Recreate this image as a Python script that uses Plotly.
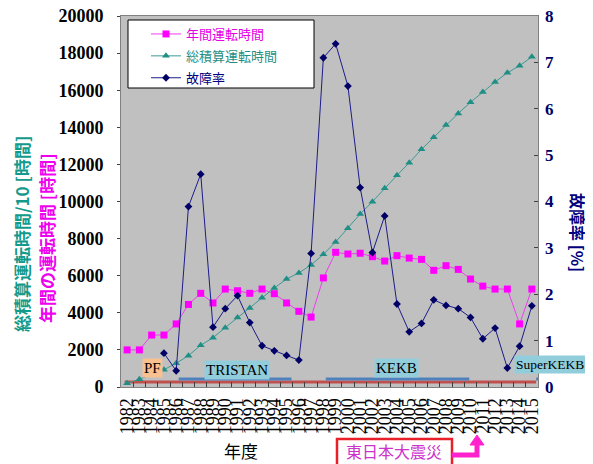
import plotly.graph_objects as go

years = [str(y) for y in range(1982, 2016)]

annual_hours = [2000, 2000, 2800, 2800, 3400, 4450, 5050, 4530, 5280, 5190,
                5050, 5280, 5030, 4530, 4080, 3770, 5880, 7260, 7170, 7210,
                7025, 6790, 7080, 6950, 6880, 6290, 6540, 6340, 5820, 5440,
                5280, 5280, 3400, 5280]

cumulative_hours_div10 = [200, 415, 680, 930, 1280, 1690, 2250, 2660, 3200, 3740,
                          4260, 4815, 5340, 5820, 6150, 6580, 7150, 7820, 8555, 9325,
                          9990, 10710, 11410, 12090, 12810, 13460, 14120, 14750, 15350, 15900,
                          16440, 16940, 17320, 17800]

failure_rate = [None, None, None, 0.73, 0.35, 3.89, 4.59, 1.29, 1.69, 1.97,
                1.39, 0.89, 0.78, 0.68, 0.58, 2.88, 7.10, 7.40, 6.49, 4.30,
                2.90, 3.69, 1.79, 1.19, 1.37, 1.88, 1.76, 1.69, 1.50, 1.04,
                1.27, 0.41, 0.88, 1.75]

left_ticks = list(range(0, 20001, 2000))
left_ticktext = [str(v) for v in left_ticks]
right_ticks = list(range(0, 9))

# operation periods (category index start/end) for accelerators
facility_names = ["TRISTAN", "KEKB", "SuperKEKB"]
facility_start = [4.2, 16.2, 33.35]
facility_end = [13.4, 27.9, 33.5]
pf_start, pf_end = -0.2, 33.35

# page has an 8px body margin; figure is sized to fill the rest of the window
OFF = 8
W, H = 593 - OFF, 464 - OFF
PX0, PY0, PX1, PY1 = 121, 16, 538, 387          # plot area in window pixels
L, T = PX0 - OFF, PY0 - OFF
PW, PH = PX1 - PX0, PY1 - PY0
R, B = W - L - PW, H - T - PH


def px(x):
    return (x - PX0) / PW


def py(y):
    return (PY1 - y) / PH


SERIF = "Liberation Serif"
CJK = "Noto Sans CJK JP"
MAG = "#ff00ff"
TEAL = "#1f8f86"
NAVY = "#000080"

fig = go.Figure()
fig.add_trace(go.Scatter(
    x=years, y=annual_hours, mode="lines+markers", legendgroup="a",
    name='<span style="color:#e600e6">年間運転時間</span>',
    line=dict(color="#f03cf0", width=1),
    marker=dict(symbol="square", size=7, color=MAG)))
fig.add_trace(go.Scatter(
    x=years, y=cumulative_hours_div10, mode="lines+markers", legendgroup="b",
    name='<span style="color:#1f8f86">総積算運転時間</span>',
    line=dict(color="#3a9a94", width=1),
    marker=dict(symbol="triangle-up", size=7, color=TEAL)))
fig.add_trace(go.Scatter(
    x=years, y=failure_rate, mode="lines+markers", yaxis="y2", legendgroup="c",
    name='<span style="color:#000080">故障率</span>',
    line=dict(color="#1c1c8a", width=1),
    marker=dict(symbol="diamond", size=6, color="#000066")))

shapes = []
# PF line (whole period)
shapes.append(dict(type="line", xref="x", yref="y", x0=pf_start, x1=pf_end, y0=270, y1=270,
                   line=dict(color="#c0504d", width=3), layer="below"))
for s, e in zip(facility_start, facility_end):
    shapes.append(dict(type="line", xref="x", yref="y", x0=s, x1=e, y0=430, y1=430,
                       line=dict(color="#4f81bd", width=3), layer="below"))
# legend box
shapes.append(dict(type="rect", xref="paper", yref="paper", x0=px(128), x1=px(314),
                   y0=py(88), y1=py(20), fillcolor="white", line=dict(color="black", width=1),
                   layer="above"))
# earthquake box and arrow
shapes.append(dict(type="rect", xref="paper", yref="paper", x0=px(337), x1=px(452),
                   y0=py(470), y1=py(439), line=dict(color="#e8202a", width=2.5)))
shapes.append(dict(type="path", xref="paper", yref="paper",
                   path=f"M {px(452)},{py(455)} L {px(477)},{py(455)} L {px(477)},{py(444)}",
                   line=dict(color="#ff22cc", width=5)))
shapes.append(dict(type="path", xref="paper", yref="paper",
                   path=f"M {px(470)},{py(445)} L {px(484)},{py(445)} L {px(477)},{py(435)} Z",
                   fillcolor="#ff22cc", line=dict(color="#ff22cc", width=1)))


def note(x, y, text, font, **kw):
    d = dict(x=x, y=y, xref="paper", yref="paper", text=text, showarrow=False,
             xanchor="center", yanchor="middle", font=font)
    d.update(kw)
    return d


annotations = [
    note(px(21), py(234), "総積算運転時間/10 [時間]",
         dict(family=CJK, size=17, color="#149a8a", weight="bold"), textangle=-90),
    note(px(46), py(238), "年間の運転時間 [時間]",
         dict(family=CJK, size=17, color="#ee00ee", weight="bold"), textangle=-90),
    note(px(578), py(232), "故障率 [%]",
         dict(family=CJK, size=16, color=NAVY, weight="bold"), textangle=90),
    note(px(241), py(450), "年度", dict(family=CJK, size=17, color="black")),
    note(px(394), py(451), "東日本大震災", dict(family=CJK, size=16, color="#cc33cc")),
    dict(x=2.1, y=1024, xref="x", yref="y", text="PF", showarrow=False,
         xanchor="center", yanchor="middle",
         bgcolor="#fac090", borderpad=1, font=dict(family=SERIF, size=15, color="black")),
    dict(x=8.96, y=916, xref="x", yref="y", text="TRISTAN", showarrow=False,
         xanchor="center", yanchor="middle",
         bgcolor="#92cddc", borderpad=1, font=dict(family=SERIF, size=15, color="black")),
    dict(x=22.0, y=1000, xref="x", yref="y", text="KEKB", showarrow=False,
         xanchor="center", yanchor="middle",
         bgcolor="#92cddc", borderpad=1, font=dict(family=SERIF, size=15, color="black")),
    note(px(586), py(364.5), "SuperKEKB", dict(family=SERIF, size=13.5, color="black"),
         xanchor="right", bgcolor="#92cddc", borderpad=1),
]

fig.update_layout(
    width=W, height=H,
    margin=dict(l=L, r=R, t=T, b=B, autoexpand=False),
    paper_bgcolor="white", plot_bgcolor="#c0c0c0",
    showlegend=True,
    legend=dict(x=px(146), y=py(19), xanchor="left", yanchor="top",
                bgcolor="rgba(0,0,0,0)", borderwidth=0,
                font=dict(family=CJK, size=13), tracegroupgap=2),
    xaxis=dict(type="category", range=[-0.5, 33.5], tickmode="array", tickvals=years, ticktext=years,
               tickangle=-90, tickfont=dict(family=SERIF, size=18, color="black"),
               ticks="inside", ticklen=5, tickcolor="#404040", tickson="boundaries",
               ticklabelstandoff=3, ticklabeloverflow="allow",
               showgrid=False, showline=True, linecolor="#808080", linewidth=1, mirror=True,
               zeroline=False, automargin=False),
    yaxis=dict(range=[0, 20000], tickmode="array", tickvals=left_ticks, ticktext=left_ticktext,
               tickfont=dict(family=SERIF, size=18, color="black", weight="bold"),
               ticks="outside", ticklen=3, tickcolor="#404040", ticklabelstandoff=10,
               ticklabeloverflow="allow",
               showgrid=False, showline=True, linecolor="#808080", linewidth=1, mirror=True,
               zeroline=False, automargin=False),
    yaxis2=dict(range=[0, 8], tickmode="array", tickvals=right_ticks,
                overlaying="y", side="right", anchor="x",
                tickfont=dict(family=SERIF, size=17, color="#000066", weight="bold"),
                ticks="inside", ticklen=4, tickcolor="#404040", ticklabelstandoff=6,
                ticklabeloverflow="allow",
                showgrid=False, showline=False, zeroline=False, automargin=False),
    shapes=shapes, annotations=annotations,
)

fig.write_html("out.html")
